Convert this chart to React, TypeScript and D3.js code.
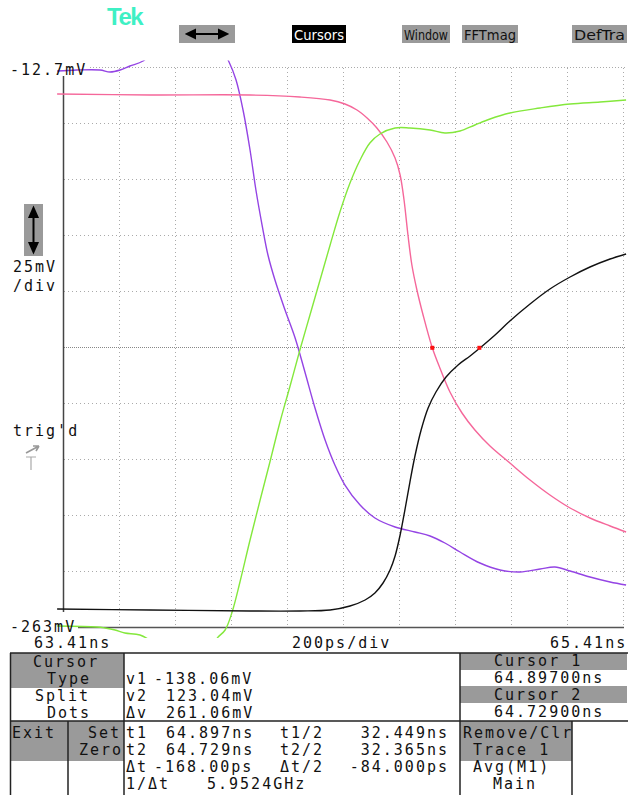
import React from 'react';
import * as d3 from 'd3';

// horizontal: 63.41ns .. 65.41ns, 200ps/div ; vertical: -12.7mV .. -263mV, 25mV/div
const timeStart = 63.41;
const timeEnd = 65.41;
const voltTop = -12.7;
const voltBottom = -262.7;
const divisions = 10;

// traces as [time ns, mV]
const purpleTrace: [number, number][] = [
  [63.389, -14.49], [63.46, -14.04], [63.542, -14.04], [63.578, -14.93], [63.614, -14.04],
  [63.649, -12.25], [63.696, -10.02], [63.756, -2.88], [63.899, -0.65], [63.978, -5.11],
  [64.003, -10.47], [64.028, -18.5], [64.053, -31.9], [64.078, -49.75], [64.099, -67.61],
  [64.121, -83.24], [64.142, -96.63], [64.167, -107.79], [64.203, -121.18], [64.239, -133.68],
  [64.274, -148.86], [64.31, -164.93], [64.346, -179.22], [64.381, -190.38], [64.417, -199.31],
  [64.471, -208.24], [64.524, -214.04], [64.596, -218.06], [64.667, -220.29], [64.721, -222.08],
  [64.774, -225.2], [64.828, -229.22], [64.899, -234.13], [64.971, -237.25], [65.042, -238.15],
  [65.114, -236.81], [65.167, -235.91], [65.221, -237.7], [65.292, -240.38], [65.364, -242.61],
  [65.421, -243.95],
];

const pinkTrace: [number, number][] = [
  [63.389, -24.75], [63.721, -25.2], [64.078, -25.2], [64.256, -26.09], [64.364, -27.43],
  [64.417, -29.22], [64.46, -31.9], [64.496, -35.47], [64.531, -39.93], [64.567, -46.18],
  [64.596, -53.33], [64.614, -60.91], [64.628, -72.08], [64.642, -87.7], [64.656, -101.09],
  [64.674, -112.25], [64.696, -123.41], [64.728, -137.7], [64.756, -147.08], [64.792, -157.79],
  [64.835, -167.16], [64.881, -174.75], [64.935, -181.9], [65.006, -189.49], [65.078, -197.08],
  [65.149, -203.77], [65.221, -209.58], [65.292, -214.04], [65.364, -217.61], [65.421, -220.29],
];

const greenTrace: [number, number][] = [
  [63.389, -262.25], [63.531, -262.7], [63.56, -263.15], [63.596, -264.04], [63.631, -265.38],
  [63.685, -266.27], [63.756, -270.74], [63.899, -272.97], [63.942, -270.74], [63.964, -267.16],
  [63.989, -264.04], [64.014, -256.0], [64.042, -242.61], [64.078, -223.86], [64.114, -206.0],
  [64.149, -189.04], [64.185, -171.18], [64.221, -155.11], [64.256, -139.04], [64.292, -123.41],
  [64.328, -107.79], [64.364, -92.16], [64.399, -77.43], [64.435, -64.49], [64.471, -54.22],
  [64.506, -46.63], [64.542, -42.61], [64.596, -39.93], [64.649, -39.93], [64.721, -40.83],
  [64.774, -42.16], [64.828, -41.27], [64.881, -38.59], [64.935, -35.91], [65.006, -33.24],
  [65.114, -31.0], [65.221, -29.22], [65.328, -28.33], [65.421, -27.43],
];

const blackTrace: [number, number][] = [
  [63.389, -254.66], [63.721, -255.11], [64.078, -255.56], [64.256, -255.56], [64.364, -255.11],
  [64.435, -253.33], [64.489, -250.65], [64.524, -247.52], [64.553, -243.06], [64.578, -237.25],
  [64.596, -231.0], [64.614, -221.63], [64.631, -210.47], [64.649, -197.97], [64.667, -186.36],
  [64.689, -174.75], [64.714, -164.93], [64.742, -157.8], [64.778, -151.1], [64.821, -145.7],
  [64.864, -141.7], [64.899, -138.15], [64.953, -132.34], [65.006, -126.09], [65.078, -118.5],
  [65.149, -111.81], [65.221, -106.45], [65.292, -101.99], [65.364, -98.41], [65.421, -96.18],
];

const cursorTimes = [64.897, 64.729];
const cursorVolt = -138.06;

const menuButtons = [
  { label: 'Cursors', x0: 292, x1: 346, dark: true },
  { label: 'Window', x0: 402, x1: 450, dark: false },
  { label: 'FFTmag', x0: 462, x1: 518, dark: false },
  { label: 'DefTra', x0: 572, x1: 627, dark: false },
];

const readoutLabels = ['v1', 'v2', 'Δv', 't1', 't2', 'Δt', '1/Δt'];
const readoutValues = ['-138.06mV', '123.04mV', '261.06mV', '64.897ns', '64.729ns', '-168.00ps', '5.9524GHz'];
const halfLabels = ['t1/2', 't2/2', 'Δt/2'];
const halfValues = ['32.449ns', '32.365ns', '-84.000ps'];
const cursorReadouts = ['Cursor 1', '64.89700ns', 'Cursor 2', '64.72900ns'];

const GRAY = '#9a9a9a';
const MONO = 'DejaVu Sans Mono';

const T = ({ x, y, children, fill = '#111', anchor = 'start' }: any) => (
  <text x={x} y={y} fill={fill} fontFamily={MONO} fontSize={15} letterSpacing={2}
    dominantBaseline="central" textAnchor={anchor}>{children}</text>
);

export default function App() {
  const x = d3.scaleLinear().domain([timeStart, timeEnd]).range([63, 623]);
  const y = d3.scaleLinear().domain([voltTop, voltBottom]).range([67, 627]);

  const line = d3.line<[number, number]>()
    .x(d => x(d[0]))
    .y(d => y(d[1]))
    .curve(d3.curveCatmullRom.alpha(0.5));

  const tStep = (timeEnd - timeStart) / divisions;
  const vStep = (voltBottom - voltTop) / divisions;
  const gridT = d3.range(1, divisions + 1).map(i => timeStart + i * tStep);
  const gridV = d3.range(1, divisions).map(i => voltTop + i * vStep);

  const traces = [
    { d: purpleTrace, c: '#9444e4' },
    { d: pinkTrace, c: '#f5679a' },
    { d: greenTrace, c: '#84e83c' },
    { d: blackTrace, c: '#111111' },
  ];

  const rowsTop = [679, 696, 713];
  const rowsBot = [733, 750, 767, 784];
  const valueX = [154, 166, 166, 166, 166, 154, 207];

  return (
    <svg width={628} height={795} style={{ position: 'absolute', left: 0, top: 0, background: '#fff' }}>
      <defs>
        <clipPath id="scr">
          <rect x={50} y={60.5} width={578} height={577.5} />
        </clipPath>
      </defs>

      {/* logo + menu */}
      <text x={107} y={25} fill="#3ef0c4" fontFamily="Liberation Sans" fontWeight="bold" fontSize={24} letterSpacing={-1.5}>Tek</text>
      <rect x={179} y={25} width={56} height={18} fill={GRAY} />
      <path d="M187,34 L227,34 M187,34 l8,-4 l0,8 z M227,34 l-8,-4 l0,8 z" stroke="#000" strokeWidth={2} fill="#000" />
      {menuButtons.map(b => (
        <g key={b.label}>
          <rect x={b.x0} y={25} width={b.x1 - b.x0} height={18} fill={b.dark ? '#000' : GRAY} />
          <text x={b.x0 + 2} y={34.5} fill={b.dark ? '#fff' : '#111'} fontFamily="DejaVu Sans" fontSize={14}
            dominantBaseline="central" textLength={b.x1 - b.x0 - 4} lengthAdjust="spacingAndGlyphs">{b.label}</text>
        </g>
      ))}

      {/* graticule */}
      {gridV.map((v, i) => (
        <line key={'h' + i} x1={64} x2={626} y1={Math.round(y(v)) + 0.5} y2={Math.round(y(v)) + 0.5}
          stroke={i === 4 ? '#888' : '#aaa'} strokeDasharray={i === 4 ? '1 1' : '1 3'} />
      ))}
      <line x1={90} x2={626} y1={y(voltTop) + 0.5} y2={y(voltTop) + 0.5} stroke="#aaa" strokeDasharray="1 2" />
      {gridT.map((t, i) => (
        <line key={'v' + i} x1={Math.round(x(t)) + 0.5} x2={Math.round(x(t)) + 0.5} y1={68} y2={626}
          stroke="#aaa" strokeDasharray="1 3" />
      ))}
      <line x1={63.5} x2={63.5} y1={76} y2={612} stroke="#444" strokeWidth={1.5} />
      <line x1={78} x2={624} y1={y(voltBottom) + 0.5} y2={y(voltBottom) + 0.5} stroke="#555" strokeWidth={1.5} />

      {/* traces */}
      <g clipPath="url(#scr)">
        {traces.map((tr, i) => (
          <path key={i} d={line(tr.d) || ''} fill="none" stroke={tr.c} strokeWidth={1.4} />
        ))}
      </g>
      {cursorTimes.map((t, i) => (
        <rect key={'c' + i} x={x(t) - 2} y={y(cursorVolt) - 2} width={4} height={4} fill="#ff1010" />
      ))}

      {/* scale labels */}
      <T x={10} y={70}>-12.7mV</T>
      <T x={10} y={627}>-263mV</T>
      <T x={34} y={643}>63.41ns</T>
      <T x={292} y={643}>200ps/div</T>
      <T x={550} y={643}>65.41ns</T>

      <rect x={24} y={204} width={19} height={52} fill={GRAY} />
      <path d="M33.5,209 L33.5,251 M33.5,208 l-4,9 l8,0 z M33.5,252 l-4,-9 l8,0 z" stroke="#000" strokeWidth={2} fill="#000" />
      <T x={13} y={267}>25mV</T>
      <T x={13} y={286}>/div</T>
      <T x={13} y={431}>trig'd</T>
      <path d="M26,453 L39,446 M39,446 l-6,0 M39,446 l-3,5" stroke="#999" strokeWidth={1.6} fill="none" />
      <path d="M26,457 L36,457 M31,457 L31,470" stroke="#aaa" strokeWidth={1.2} fill="none" />

      {/* bottom panel */}
      <rect x={10} y={653} width={114} height={35} fill={GRAY} />
      <rect x={10} y={721} width={58} height={40} fill={GRAY} />
      <rect x={68} y={721} width={56} height={40} fill={GRAY} />
      <rect x={460} y={653} width={167} height={17} fill={GRAY} />
      <rect x={460} y={686} width={167} height={17} fill={GRAY} />
      <rect x={460} y={721} width={112} height={40} fill={GRAY} />
      <g stroke="#222" strokeWidth={1.5}>
        <line x1={10} x2={628} y1={653} y2={653} />
        <line x1={10} x2={628} y1={721} y2={721} />
        <line x1={10.5} x2={10.5} y1={653} y2={795} />
        <line x1={124} x2={124} y1={653} y2={795} />
        <line x1={460} x2={460} y1={653} y2={795} />
        <line x1={68} x2={68} y1={721} y2={795} />
        <line x1={572} x2={572} y1={721} y2={795} />
      </g>

      <T x={33} y={662}>Cursor</T>
      <T x={47} y={679}>Type</T>
      <T x={35} y={696}>Split</T>
      <T x={47} y={713}>Dots</T>
      <T x={12} y={733}>Exit</T>
      <T x={88} y={733}>Set</T>
      <T x={79} y={750}>Zero</T>

      {readoutLabels.map((l, i) => (
        <g key={l}>
          <T x={126} y={i < 3 ? rowsTop[i] : rowsBot[i - 3]}>{l}</T>
          <T x={valueX[i]} y={i < 3 ? rowsTop[i] : rowsBot[i - 3]}>{readoutValues[i]}</T>
        </g>
      ))}
      {halfLabels.map((l, i) => (
        <g key={l}>
          <T x={280} y={rowsBot[i]}>{l}</T>
          <T x={449} y={rowsBot[i]} anchor="end">{halfValues[i]}</T>
        </g>
      ))}
      {cursorReadouts.map((c, i) => (
        <T key={c} x={494} y={[661, 678, 695, 712][i]}>{c}</T>
      ))}
      <T x={463} y={733}>Remove/Clr</T>
      <T x={473} y={750}>Trace 1</T>
      <T x={473} y={767}>Avg(M1)</T>
      <T x={493} y={784}>Main</T>
    </svg>
  );
}
